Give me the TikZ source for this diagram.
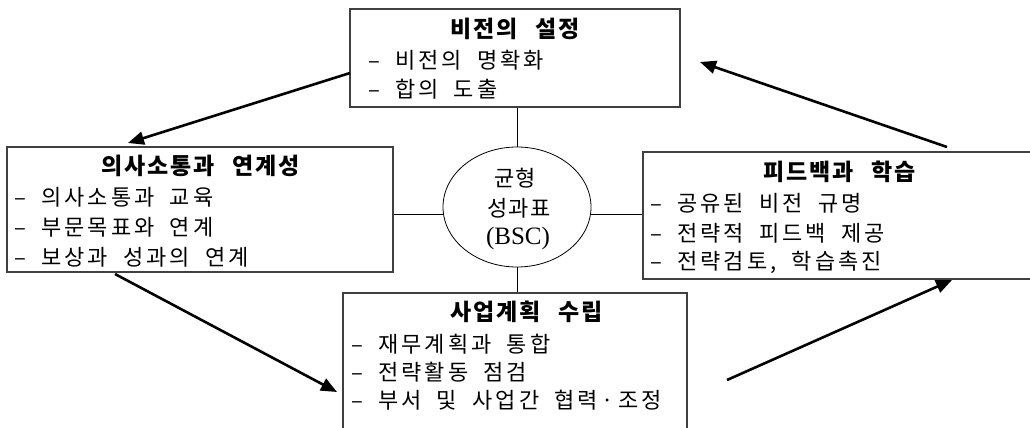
\documentclass[tikz,border=0pt]{standalone}
\usepackage{fontspec}
\usetikzlibrary{arrows.meta,shapes.geometric}
\newfontfamily\kr[LetterSpace=14,WordSpace=1.9]{Noto Sans CJK KR}
\newfontfamily\krt[LetterSpace=8,WordSpace=2.5]{Noto Sans CJK KR}
\newfontfamily\kre[LetterSpace=6]{Noto Sans CJK KR}
\newfontfamily\bscfont{Liberation Serif}
\tikzset{
  box/.style={draw=black!75, line width=1.3pt, rectangle, inner sep=0pt},
  ttl/.style={font=\krt\bfseries\fontsize{23}{23}\selectfont, inner sep=0pt, anchor=center},
  itm/.style={font=\kr\fontsize{22}{22}\selectfont, inner sep=0pt, anchor=west},
  ctr/.style={font=\kre\fontsize{22}{22}\selectfont, inner sep=0pt, anchor=center},
  link/.style={draw=black, line width=1pt},
  flow/.style={draw=black, line width=2.6pt, -{Triangle[length=16pt,width=13pt]}},
}
\begin{document}
\begin{tikzpicture}[x=1pt,y=-1pt]
\useasboundingbox (0,0) rectangle (1030,428);
\clip (0,0) rectangle (1030,428);
% boxes
\node[box, minimum width=330pt, minimum height=98pt] (top) at (515,58) {};
\node[box, minimum width=386pt, minimum height=125pt] (left) at (200,209.5) {};
\node[box, minimum width=394pt, minimum height=127pt] (right) at (840,215.5) {};
\node[box, minimum width=344pt, minimum height=150pt] (bot) at (515,368) {};
\node[draw=black, line width=0.8pt, ellipse, minimum width=148pt, minimum height=120pt, inner sep=0pt] (ell) at (517,207) {};
% top box text
\node[ttl] (topT) at (515,29) {비전의 설정};
\node[itm] (top1) at (368,60) {– 비전의 명확화};
\node[itm] (top2) at (368,89) {– 합의 도출};
% left box text
\node[ttl] (leftT) at (201,166) {의사소통과 연계성};
\node[itm] (left1) at (14,197) {– 의사소통과 교육};
\node[itm] (left2) at (14,227) {– 부문목표와 연계};
\node[itm] (left3) at (14,257) {– 보상과 성과의 연계};
% right box text
\node[ttl] (rightT) at (840,172) {피드백과 학습};
\node[itm] (right1) at (650,203) {– 공유된 비전 규명};
\node[itm] (right2) at (650,233) {– 전략적 피드백 제공};
\node[itm] (right3) at (650,262) {– 전략검토, 학습촉진};
% bottom box text
\node[ttl] (botT) at (527,312) {사업계획 수립};
\node[itm] (bot1) at (351,344) {– 재무계획과 통합};
\node[itm] (bot2) at (351,372) {– 전략활동 점검};
\node[itm] (bot3) at (351,400) {– 부서 및 사업간 협력\kern3pt·\kern5pt조정};
% ellipse text
\node[ctr] (e1) at (515,178) {균형};
\node[ctr] (e2) at (519,208) {성과표};
\node[inner sep=0pt, font=\bscfont\fontsize{25}{25}\selectfont] (e3) at (518,238) {(BSC)};
% links
\draw[link] (ell.north) -- (ell.north |- top.south);
\draw[link] (ell.south) -- (ell.south |- bot.north);
\draw[link] (ell.186) -- (ell.186 -| left.east);
\draw[link] (ell.-6) -- (ell.-6 -| right.west);
% flow arrows
\coordinate (a1s) at (350,73);  \coordinate (a1e) at (128,143);
\coordinate (a2s) at (115,274); \coordinate (a2e) at (337,392);
\coordinate (a3s) at (727,380); \coordinate (a3e) at (952,280);
\coordinate (a4s) at (947,147); \coordinate (a4e) at (700,62);
\draw[flow] (a1s) -- (a1e);
\draw[flow] (a2s) -- (a2e);
\draw[flow] (a3s) -- (a3e);
\draw[flow] (a4s) -- (a4e);
\end{tikzpicture}
\end{document}
